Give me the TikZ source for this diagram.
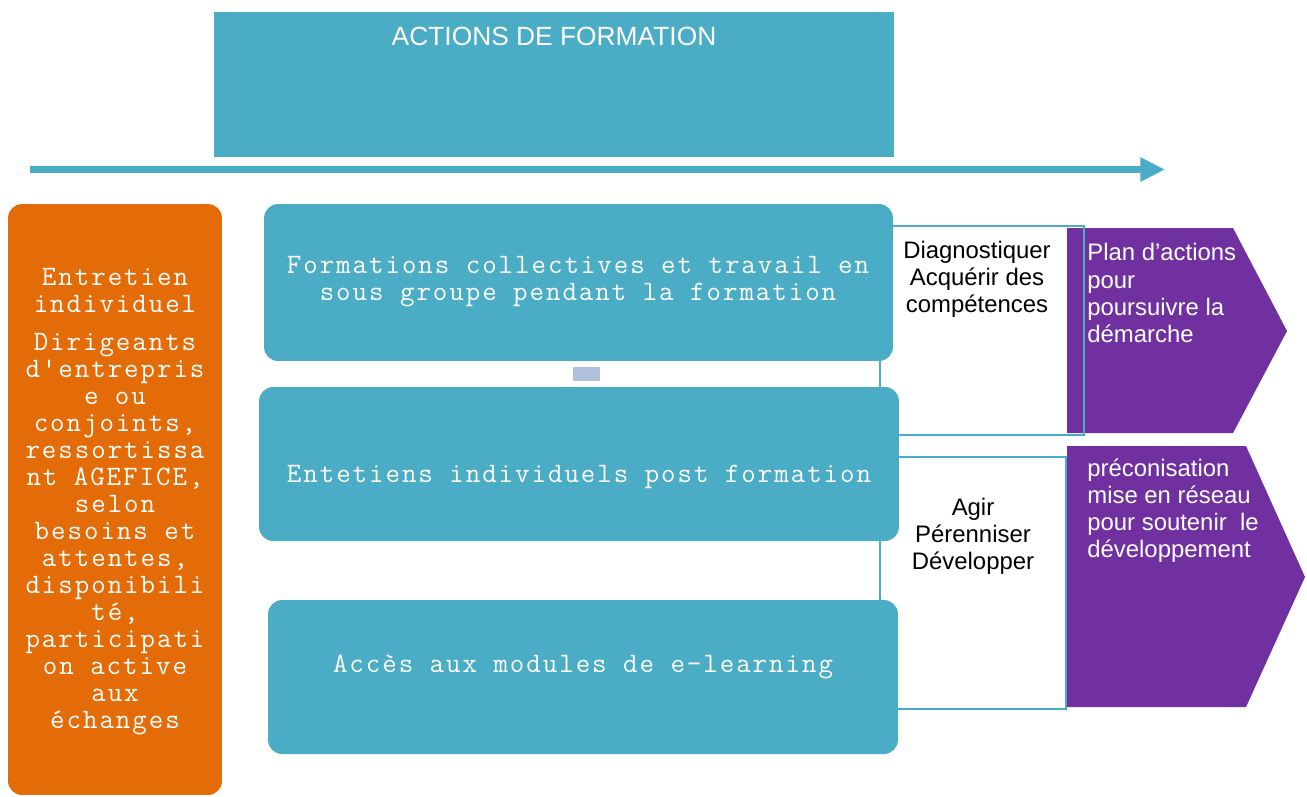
\documentclass[tikz,border=0pt]{standalone}
\usepackage{fontspec}
\setmainfont{Liberation Sans}
\setmonofont{Latin Modern Mono}[LetterSpace=7]
\usetikzlibrary{arrows.meta}

\definecolor{AQUA}{HTML}{4BACC6}
\definecolor{ORNG}{HTML}{E36C09}
\definecolor{PURP}{HTML}{7030A0}
\definecolor{LAVD}{HTML}{B0BFDB}

\tikzset{
  bluebox/.style={fill=AQUA, rounded corners=8pt, inner sep=0pt, outer sep=0pt},
  monotext/.style={text=white, align=center, inner sep=0pt, font=\ttfamily\fontsize{16}{15.4}\selectfont},
  sanstext/.style={align=center, inner sep=0pt, font=\fontsize{13.6}{15.3}\selectfont},
  purptext/.style={text=white, align=left, anchor=west, inner sep=0pt, font=\fontsize{13.6}{15.4}\selectfont},
  bracket/.style={draw=AQUA, line width=1.2pt},
}

\begin{document}
\begin{tikzpicture}[x=0.02cm, y=-0.02cm]
    \useasboundingbox (0,0) rectangle (1307,796);

    % titre et fleche
    \node[fill=AQUA, minimum width=13.6cm, minimum height=2.9cm, inner sep=0pt] (actions) at (554,84.5) {};
    \node[text=white, inner sep=0pt, font=\fontsize{15}{18}\selectfont] (titre) at (554,36) {ACTIONS DE FORMATION};

    \coordinate (flecheA) at (30,169.5);
    \coordinate (flecheB) at (1165,169.5);
    \draw[AQUA, line width=4.25pt, -{Triangle[length=14pt, width=13pt]}] (flecheA) -- (flecheB);

    % chevrons violets
    \fill[PURP] (1067,228) -- (1233,228) -- (1287,331) -- (1233,433) -- (1067,433) -- cycle;
    \fill[PURP] (1067,446) -- (1246,446) -- (1305,577) -- (1246,707) -- (1067,707) -- cycle;

    % accolades
    \coordinate (crochetA1) at (880,226);
    \coordinate (crochetA2) at (1084,435);
    \coordinate (crochetB1) at (880,457);
    \coordinate (crochetB2) at (1066,709);
    \draw[bracket] (crochetA1) rectangle (crochetA2);
    \draw[bracket] (crochetB1) rectangle (crochetB2);

    % colonne orange
    \node[fill=ORNG, rounded corners=8pt, minimum width=4.28cm, minimum height=11.82cm, inner sep=0pt] (entretien) at (115,499.5) {};
    \node[monotext] (public) at (115,502) {Entretien\\individuel\\[5.8pt]Dirigeants\\d'entrepris\\e ou\\conjoints,\\ressortissa\\nt AGEFICE,\\selon\\besoins et\\attentes,\\disponibili\\té,\\participati\\on active\\aux\\échanges};

    % blocs bleus
    \node[bluebox, minimum width=12.58cm, minimum height=3.14cm] (collectif) at (578.5,282.5) {};
    \node[bluebox, minimum width=12.8cm, minimum height=3.08cm] (post) at (579,464) {};
    \node[bluebox, minimum width=12.6cm, minimum height=3.08cm] (elearning) at (583,677) {};
    \node[fill=LAVD, minimum width=0.54cm, minimum height=0.28cm, inner sep=0pt] (carre) at (586.5,374) {};

    \node[monotext] (collectiftxt) at (578,282) {Formations collectives et travail en\\sous groupe pendant la formation};
    \node[monotext] (posttxt) at (579,477) {Entetiens individuels post formation};
    \node[monotext] (elearningtxt) at (583,667) {Accès aux modules de e-learning};

    % etapes
    \node[sanstext] (diag) at (977,279) {Diagnostiquer\\Acquérir des\\compétences};
    \node[sanstext] (agir) at (973,536) {Agir\\Pérenniser\\Développer};

    \node[purptext] (plan) at (1087,293) {Plan d’actions\\pour\\poursuivre la\\démarche};
    \node[purptext] (reseau) at (1087,510.5) {préconisation\\mise en réseau\\pour soutenir\ \ le\\développement};
\end{tikzpicture}
\end{document}
